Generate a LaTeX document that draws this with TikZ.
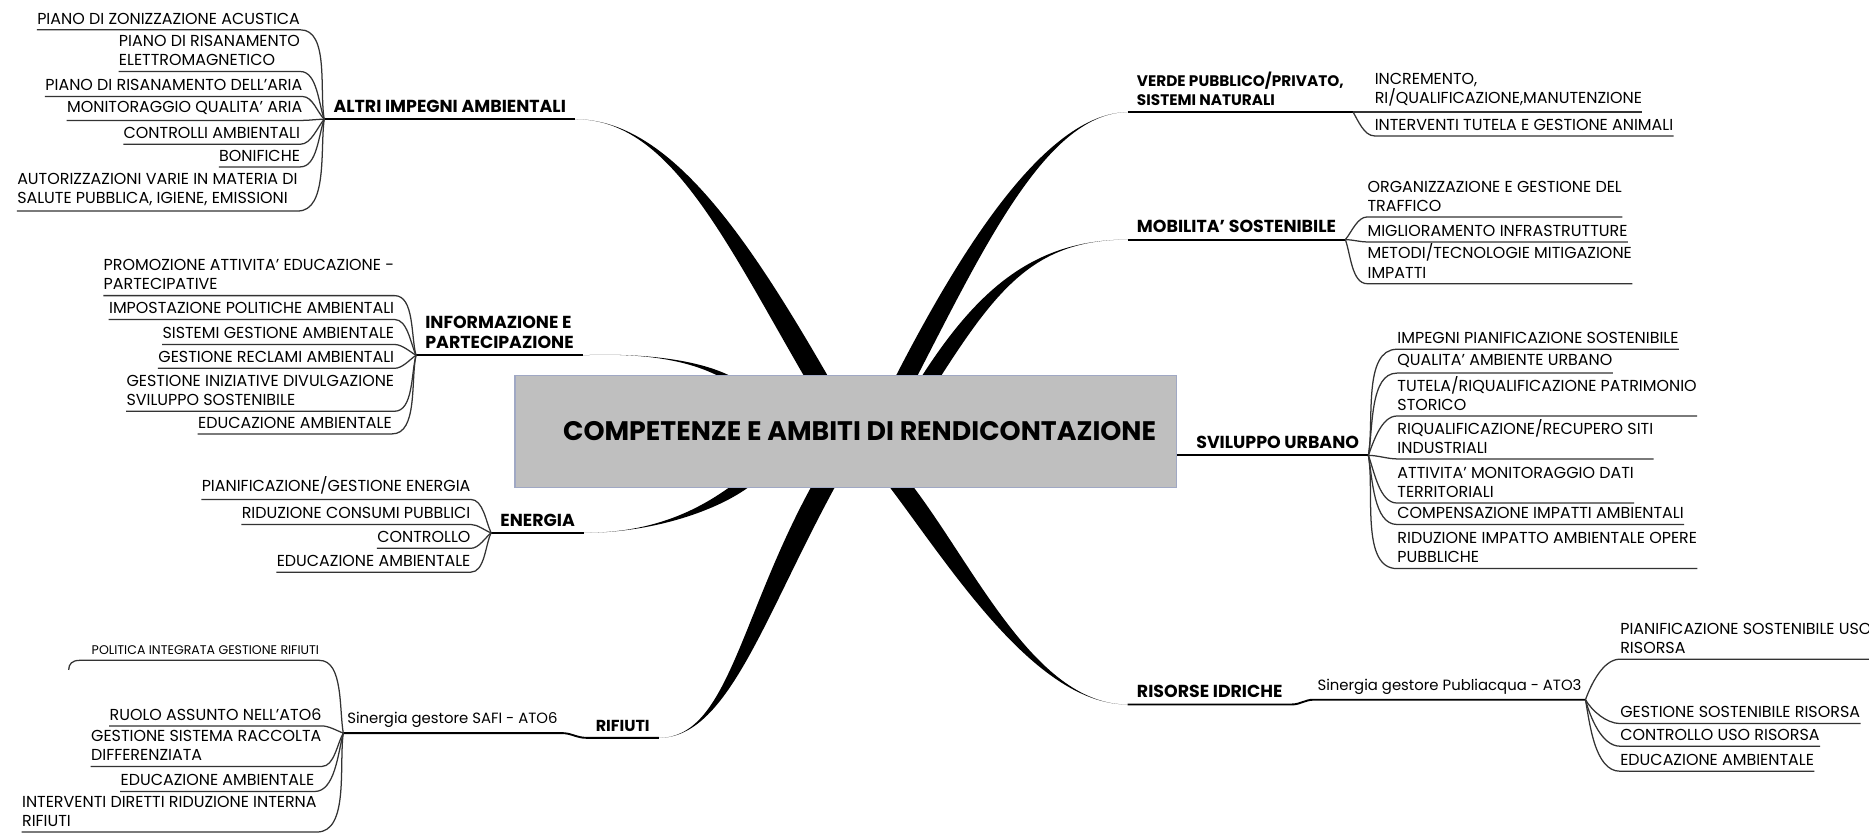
\documentclass[tikz,border=0pt]{standalone}
\usepackage{fontspec}
\setmainfont{Poppins}
\usetikzlibrary{calc}

\tikzstyle{centrale} = [rectangle, draw={rgb,255:red,160;green,168;blue,196}, fill=gray!50, line width=0.5pt, minimum width=11.1cm, minimum height=1.88cm, inner xsep=0.34cm, font=\fontsize{12.8}{14}\selectfont\bfseries]
\tikzstyle{ramo} = [inner xsep=0.15cm, inner ysep=3pt, align=left, font=\fontsize{8.3}{9.3}\selectfont\bfseries]
\tikzstyle{gestore} = [inner xsep=0.06cm, inner ysep=2.5pt, font=\fontsize{7.1}{9}\selectfont]
\tikzstyle{foglia} = [inner xsep=0pt, inner ysep=2.5pt, align=left, font=\fontsize{7.6}{9.1}\selectfont]
\tikzstyle{filo} = [draw=black!80, line width=0.6pt, looseness=0.8]
\tikzstyle{filomain} = [draw=black, line width=0.9pt]

\begin{document}
\begin{tikzpicture}[x=0.02cm, y=-0.02cm]
        \useasboundingbox (0,0) rectangle (1568,698);
        \clip (0,0) rectangle (1568,698);

        % box centrale
        \node (C) [centrale] at (709.5,362) {\makebox[10.42cm][r]{COMPETENZE E AMBITI DI RENDICONTAZIONE}};

        % altri impegni ambientali
        \coordinate (AIh) at (272,100);
        \node (AI) [ramo, anchor=south west] at (AIh) {ALTRI IMPEGNI AMBIENTALI};
        \node (AI1) [foglia, anchor=south east] at (252,25) {PIANO DI ZONIZZAZIONE ACUSTICA};
        \node (AI2) [foglia, anchor=south east] at (252,60) {PIANO DI RISANAMENTO\\ELETTROMAGNETICO};
        \node (AI3) [foglia, anchor=south east] at (254,81) {PIANO DI RISANAMENTO DELL'ARIA};
        \node (AI4) [foglia, anchor=south east] at (254,101) {MONITORAGGIO QUALITA' ARIA};
        \node (AI5) [foglia, anchor=south east] at (252,121) {CONTROLLI AMBIENTALI};
        \node (AI6) [foglia, anchor=south east] at (252,140) {BONIFICHE};
        \node (AI7) [foglia, anchor=south east] at (250,177) {AUTORIZZAZIONI VARIE IN MATERIA DI\\SALUTE PUBBLICA, IGIENE, EMISSIONI};
        \draw[filomain] (AIh) -- (AI.south east);
        \draw[filo] (AIh) to[out=100,in=0] (AI1.south east) -- (AI1.south west);
        \draw[filo] (AIh) to[out=110,in=0] (AI2.south east) -- (AI2.south west);
        \draw[filo] (AIh) to[out=135,in=0] (AI3.south east) -- (AI3.south west);
        \draw[filo] (AIh) to[out=180,in=0] (AI4.south east) -- (AI4.south west);
        \draw[filo] (AIh) to[out=230,in=0] (AI5.south east) -- (AI5.south west);
        \draw[filo] (AIh) to[out=250,in=0] (AI6.south east) -- (AI6.south west);
        \draw[filo] (AIh) to[out=262,in=0] (AI7.south east) -- (AI7.south west);

        % informazione e partecipazione
        \coordinate (IPh) at (349,298);
        \node (IP) [ramo, anchor=south west] at (IPh) {INFORMAZIONE E\\PARTECIPAZIONE};
        \node (IP1) [foglia, anchor=south east] at (331,248) {PROMOZIONE ATTIVITA' EDUCAZIONE -\\PARTECIPATIVE};
        \node (IP2) [foglia, anchor=south east] at (331,268) {IMPOSTAZIONE POLITICHE AMBIENTALI};
        \node (IP3) [foglia, anchor=south east] at (331,289) {SISTEMI GESTIONE AMBIENTALE};
        \node (IP4) [foglia, anchor=south east] at (331,309) {GESTIONE RECLAMI AMBIENTALI};
        \node (IP5) [foglia, anchor=south east] at (331,345) {GESTIONE INIZIATIVE DIVULGAZIONE\\SVILUPPO SOSTENIBILE};
        \node (IP6) [foglia, anchor=south east] at (329,364) {EDUCAZIONE AMBIENTALE};
        \draw[filomain] (IPh) -- (IP.south east);
        \draw[filo] (IPh) to[out=105,in=0] (IP1.south east) -- (IP1.south west);
        \draw[filo] (IPh) to[out=115,in=0] (IP2.south east) -- (IP2.south west);
        \draw[filo] (IPh) to[out=150,in=0] (IP3.south east) -- (IP3.south west);
        \draw[filo] (IPh) to[out=215,in=0] (IP4.south east) -- (IP4.south west);
        \draw[filo] (IPh) to[out=255,in=0] (IP5.south east) -- (IP5.south west);
        \draw[filo] (IPh) to[out=258,in=0] (IP6.south east) -- (IP6.south west);

        % energia
        \coordinate (ENh) at (412,447);
        \node (EN) [ramo, anchor=south west] at (ENh) {ENERGIA};
        \node (EN1) [foglia, anchor=south east] at (395,419) {PIANIFICAZIONE/GESTIONE ENERGIA};
        \node (EN2) [foglia, anchor=south east] at (395,440) {RIDUZIONE CONSUMI PUBBLICI};
        \node (EN3) [foglia, anchor=south east] at (395,460) {CONTROLLO};
        \node (EN4) [foglia, anchor=south east] at (395,480) {EDUCAZIONE AMBIENTALE};
        \draw[filomain] (ENh) -- (EN.south east);
        \draw[filo] (ENh) to[out=115,in=0] (EN1.south east) -- (EN1.south west);
        \draw[filo] (ENh) to[out=160,in=0] (EN2.south east) -- (EN2.south west);
        \draw[filo] (ENh) to[out=220,in=0] (EN3.south east) -- (EN3.south west);
        \draw[filo] (ENh) to[out=245,in=0] (EN4.south east) -- (EN4.south west);

        % rifiuti
        \coordinate (SGh) at (288,615);
        \node (SG) [gestore, anchor=south west] at (SGh) {Sinergia gestore SAFI - ATO6};
        \node (RF) [ramo, anchor=south west, font=\fontsize{7.6}{9}\selectfont\bfseries] at (492,619) {RIFIUTI};
        \node (SG1) [foglia, anchor=south east, font=\fontsize{6}{7}\selectfont] at (268,554) {POLITICA INTEGRATA GESTIONE RIFIUTI};
        \node (SG2) [foglia, anchor=south east] at (270,609) {RUOLO ASSUNTO NELL'ATO6};
        \node (SG3) [foglia, anchor=south east] at (270,643) {GESTIONE SISTEMA RACCOLTA\\DIFFERENZIATA};
        \node (SG4) [foglia, anchor=south east] at (264,664) {EDUCAZIONE AMBIENTALE};
        \node (SG5) [foglia, anchor=south east] at (266,698) {INTERVENTI DIRETTI RIDUZIONE INTERNA\\RIFIUTI};
        \draw[filomain] (SGh) -- (SG.south east) to[out=0,in=180] (RF.south west) -- (RF.south east);
        \draw[filo] (SGh) to[out=100,in=0] (SG1.south east) -- ([xshift=-0.2cm]SG1.south west) .. controls +(-6,0) and +(0,-5) .. +(-9,8);
        \draw[filo] (SGh) to[out=160,in=0] (SG2.south east) -- (SG2.south west);
        \draw[filo] (SGh) to[out=240,in=0] (SG3.south east) -- (SG3.south west);
        \draw[filo] (SGh) to[out=255,in=0] (SG4.south east) -- (SG4.south west);
        \draw[filo] (SGh) to[out=262,in=0] (SG5.south east) -- (SG5.south west);

        % verde pubblico
        \node (VP) [ramo, anchor=south west, font=\fontsize{7.3}{9}\selectfont\bfseries] at (946,94) {VERDE PUBBLICO/PRIVATO,\\SISTEMI NATURALI};
        \node (VP1) [foglia, anchor=south west] at (1153,94) {INCREMENTO,\\RI/QUALIFICAZIONE,MANUTENZIONE};
        \node (VP2) [foglia, anchor=south west] at (1153,114) {INTERVENTI TUTELA E GESTIONE ANIMALI};
        \draw[filomain] (VP.south west) -- (VP.south east);
        \draw[filo] (VP.south east) -- (VP1.south west) -- (VP1.south east);
        \draw[filo] (VP.south east) to[out=300,in=180] (VP2.south west) -- (VP2.south east);

        % mobilita sostenibile
        \node (MS) [ramo, anchor=south west] at (946,201) {MOBILITA' SOSTENIBILE};
        \node (MS1) [foglia, anchor=south west] at (1147,182) {ORGANIZZAZIONE E GESTIONE DEL\\TRAFFICO};
        \node (MS2) [foglia, anchor=south west] at (1147,203) {MIGLIORAMENTO INFRASTRUTTURE};
        \node (MS3) [foglia, anchor=south west] at (1147,238) {METODI/TECNOLOGIE MITIGAZIONE\\IMPATTI};
        \draw[filomain] (MS.south west) -- (MS.south east);
        \draw[filo] (MS.south east) to[out=50,in=180] (MS1.south west) -- (MS1.south east);
        \draw[filo] (MS.south east) to[out=0,in=180] (MS2.south west) -- (MS2.south east);
        \draw[filo] (MS.south east) to[out=290,in=180] (MS3.south west) -- (MS3.south east);

        % sviluppo urbano
        \coordinate (SUh) at (1148,382);
        \node (SU) [ramo, anchor=south east] at (SUh) {SVILUPPO URBANO};
        \node (SU1) [foglia, anchor=south west] at (1172,293) {IMPEGNI PIANIFICAZIONE SOSTENIBILE};
        \node (SU2) [foglia, anchor=south west] at (1172,313) {QUALITA' AMBIENTE URBANO};
        \node (SU3) [foglia, anchor=south west] at (1172,349) {TUTELA/RIQUALIFICAZIONE PATRIMONIO\\STORICO};
        \node (SU4) [foglia, anchor=south west] at (1172,385) {RIQUALIFICAZIONE/RECUPERO SITI\\INDUSTRIALI};
        \node (SU5) [foglia, anchor=south west] at (1172,422) {ATTIVITA' MONITORAGGIO DATI\\TERRITORIALI};
        \node (SU6) [foglia, anchor=south west] at (1172,440) {COMPENSAZIONE IMPATTI AMBIENTALI};
        \node (SU7) [foglia, anchor=south west] at (1172,477) {RIDUZIONE IMPATTO AMBIENTALE OPERE\\PUBBLICHE};
        \draw[filomain] (C.east |- SUh) -- (SUh);
        \draw[filo] (SUh) to[out=80,in=180] (SU1.south west) -- (SU1.south east);
        \draw[filo] (SUh) to[out=80,in=180] (SU2.south west) -- (SU2.south east);
        \draw[filo] (SUh) to[out=70,in=180] (SU3.south west) -- (SU3.south east);
        \draw[filo] (SUh) to[out=0,in=180] (SU4.south west) -- (SU4.south east);
        \draw[filo] (SUh) to[out=290,in=180] (SU5.south west) -- (SU5.south east);
        \draw[filo] (SUh) to[out=280,in=180] (SU6.south west) -- (SU6.south east);
        \draw[filo] (SUh) to[out=280,in=180] (SU7.south west) -- (SU7.south east);

        % risorse idriche
        \node (RS) [ramo, anchor=south west] at (946,591) {RISORSE IDRICHE};
        \node (PA) [gestore, anchor=south west] at (1102,587) {Sinergia gestore Publiacqua - ATO3};
        \node (PA1) [foglia, anchor=south west] at (1359,553) {PIANIFICAZIONE SOSTENIBILE USO\\RISORSA};
        \node (PA2) [foglia, anchor=south west] at (1359,607) {GESTIONE SOSTENIBILE RISORSA};
        \node (PA3) [foglia, anchor=south west] at (1359,626) {CONTROLLO USO RISORSA};
        \node (PA4) [foglia, anchor=south west] at (1359,647) {EDUCAZIONE AMBIENTALE};
        \draw[filomain] (RS.south west) -- (RS.south east) to[out=0,in=180] (PA.south west) -- (PA.south east);
        \draw[filo] (PA.south east) to[out=70,in=180] (PA1.south west) -- (1568,553);
        \draw[filo] (PA.south east) to[out=300,in=180] (PA2.south west) -- (PA2.south east);
        \draw[filo] (PA.south east) to[out=285,in=180] (PA3.south west) -- (PA3.south east);
        \draw[filo] (PA.south east) to[out=280,in=180] (PA4.south west) -- (PA4.south east);

        % rami spessi verso il box
        \coordinate (Cai) at (C.north -| 684,0);
        \coordinate (Cip) at (C.north -| 606,0);
        \coordinate (Cvp) at (C.north -| 761,0);
        \coordinate (Cms) at (C.north -| 782,0);
        \coordinate (Cen) at (C.south -| 619,0);
        \coordinate (Crf) at (C.south -| 690,0);
        \coordinate (Crs) at (C.south -| 757,0);

        \fill (AI.south east) .. controls (560,100) and ($(615,195)+(10,0)$) .. ($(Cai)+(10,0)$) -- ($(Cai)-(10,0)$) .. controls ($(615,195)-(10,0)$) and (560,100) .. (AI.south east) -- cycle;
        \fill (IP.south east) .. controls (540,296) and ($(580,302)+(5,0)$) .. ($(Cip)+(5,0)$) -- ($(Cip)-(5,0)$) .. controls ($(580,302)-(5,0)$) and (540,296) .. (IP.south east) -- cycle;
        \fill (VP.south west) .. controls (880,95) and ($(820,200)+(9,0)$) .. ($(Cvp)+(9,0)$) -- ($(Cvp)-(9,0)$) .. controls ($(820,200)-(9,0)$) and (880,95) .. (VP.south west) -- cycle;
        \fill (MS.south west) .. controls (870,201) and ($(830,240)+(8,0)$) .. ($(Cms)+(8,0)$) -- ($(Cms)-(8,0)$) .. controls ($(830,240)-(8,0)$) and (870,201) .. (MS.south west) -- cycle;
        \fill (EN.south east) .. controls (545,447) and ($(590,430)+(8,0)$) .. ($(Cen)+(8,0)$) -- ($(Cen)-(8,0)$) .. controls ($(590,430)-(8,0)$) and (545,447) .. (EN.south east) -- cycle;
        \fill (RF.south east) .. controls (610,619) and ($(630,520)+(10,0)$) .. ($(Crf)+(10,0)$) -- ($(Crf)-(10,0)$) .. controls ($(630,520)-(10,0)$) and (610,619) .. (RF.south east) -- cycle;
        \fill (RS.south west) .. controls (870,591) and ($(810,480)+(10,0)$) .. ($(Crs)+(10,0)$) -- ($(Crs)-(10,0)$) .. controls ($(810,480)-(10,0)$) and (870,591) .. (RS.south west) -- cycle;

\end{tikzpicture}
\end{document}
